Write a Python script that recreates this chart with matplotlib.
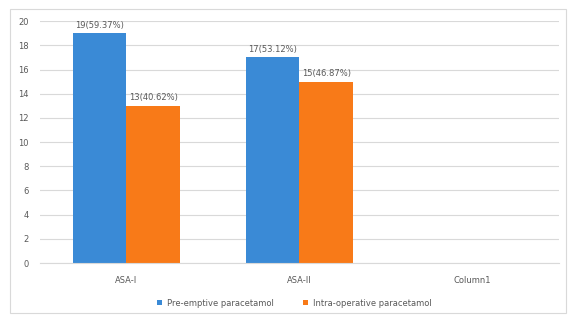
import numpy as np
import matplotlib.pyplot as plt
from matplotlib.patches import Rectangle

categories = ["ASA-I", "ASA-II", "Column1"]
pre_emptive = [19, 17, np.nan]
intra_op = [13, 15, np.nan]
pre_labels = ["19(59.37%)", "17(53.12%)", ""]
intra_labels = ["13(40.62%)", "15(46.87%)", ""]
series_names = ["Pre-emptive paracetamol", "Intra-operative paracetamol"]

blue = "#3A8AD6"
orange = "#F87A18"
text_col = "#595959"

fig = plt.figure(figsize=(5.71, 3.20), dpi=100)
# light outer frame like an Excel chart area
fig.patches.append(Rectangle((0.018, 0.022), 0.974, 0.95, transform=fig.transFigure,
                             fill=False, edgecolor="#D9D9D9", linewidth=0.8))

ax = fig.add_axes([0.070, 0.178, 0.909, 0.756])
x = np.arange(len(categories))
w = 0.31

b1 = ax.bar(x - w / 2, pre_emptive, w, color=blue, label=series_names[0])
b2 = ax.bar(x + w / 2, intra_op, w, color=orange, label=series_names[1])

for bars, labels in [(b1, pre_labels), (b2, intra_labels)]:
    for rect, lab in zip(bars, labels):
        h = rect.get_height()
        if np.isnan(h):
            continue
        ax.text(rect.get_x() + rect.get_width() / 2, h + 0.3, lab,
                ha="center", va="bottom", fontsize=6, color=text_col)

ax.set_xlim(-0.5, len(categories) - 0.5)
ax.set_ylim(0, 20)
ax.set_yticks(range(0, 21, 2))
ax.set_xticks(x)
ax.set_xticklabels(categories)
ax.tick_params(axis="both", length=0, labelsize=6, colors=text_col)
ax.tick_params(axis="x", pad=9)
ax.tick_params(axis="y", pad=8)
ax.yaxis.grid(True, color="#D9D9D9", linewidth=0.8)
ax.set_axisbelow(True)
for s in ["top", "right", "left"]:
    ax.spines[s].set_visible(False)
ax.spines["bottom"].set_color("#D9D9D9")

fig.legend(handles=[b1, b2], labels=series_names, loc="lower center",
           bbox_to_anchor=(0.515, 0.015), ncol=2, frameon=False, fontsize=6,
           labelcolor=text_col, handlelength=0.6, handleheight=0.6,
           columnspacing=3.5, handletextpad=0.6)

fig.savefig("out.png", dpi=100)
